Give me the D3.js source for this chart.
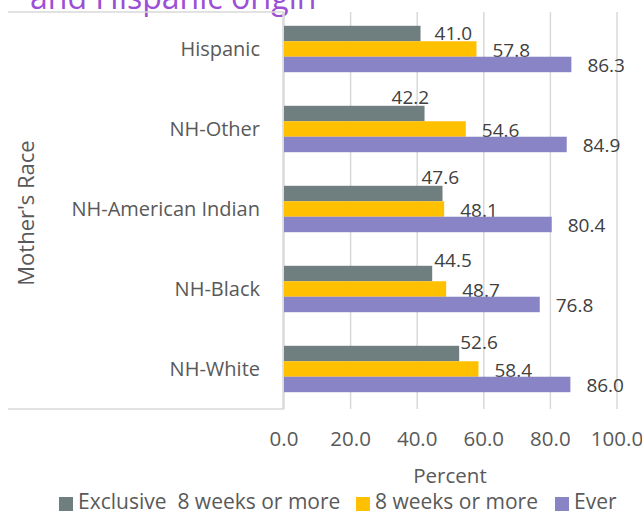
<!DOCTYPE html>
<html>
<head>
<meta charset="utf-8">
<script src="https://cdn.jsdelivr.net/npm/d3@7"></script>
<style>
  body { margin: 0; background: #fff; }
  svg { display: block; font-family: "Open Sans", sans-serif; }
</style>
</head>
<body>
<div id="chart"></div>
<script>
// data, top to bottom as in the picture
const races = ["Hispanic", "NH-Other", "NH-American Indian", "NH-Black", "NH-White"];
const exclusive8wk = [41.0, 42.2, 47.6, 44.5, 52.6];
const weeks8 = [57.8, 54.6, 48.1, 48.7, 58.4];
const ever = [86.3, 84.9, 80.4, 76.8, 86.0];
const seriesNames = ["Exclusive  8 weeks or more", "8 weeks or more", "Ever"];
const xTicks = [0, 20, 40, 60, 80, 100];

const colors = ["#6f7f7f", "#ffc000", "#8884c6"];
const textColor = "#595959";

// excel moved the gray labels around to dodge each other, nudges in px
const grayNudge = [[-2, -1], [-49, -17], [-37, -17], [-14, -14], [-15, -12]];

const width = 642;
const height = 511;

const svg = d3.select("#chart").append("svg")
  .attr("width", width)
  .attr("height", height);

const x = d3.scaleLinear().domain([0, 100]).range([284, 617]);
const y = d3.scaleBand().domain(races).range([9, 409])
  .paddingInner(0.42).paddingOuter(0.21);
const sub = d3.scaleBand().domain(seriesNames).range([0, y.bandwidth()]);

// title, mostly cut off at the top
svg.append("text")
  .attr("x", 30).attr("y", 9)
  .attr("fill", "#9b4fd6")
  .attr("font-size", 32)
  .text("and Hispanic origin");

// left frame lines
svg.append("line").attr("x1", 8).attr("x2", 284).attr("y1", 12).attr("y2", 12)
  .attr("stroke", "#d9d9d9").attr("stroke-width", 1.5);
svg.append("line").attr("x1", 8).attr("x2", 284).attr("y1", 409).attr("y2", 409)
  .attr("stroke", "#d9d9d9").attr("stroke-width", 1.5);

// gridlines
svg.append("g").selectAll("line")
  .data(xTicks)
  .join("line")
  .attr("x1", d => x(d)).attr("x2", d => x(d))
  .attr("y1", 12).attr("y2", 409)
  .attr("stroke", "#d9d9d9").attr("stroke-width", 1.5);

// tick labels
svg.append("g").selectAll("text")
  .data(xTicks)
  .join("text")
  .attr("x", d => x(d)).attr("y", 446)
  .attr("text-anchor", "middle")
  .attr("font-size", 20.5)
  .attr("fill", textColor)
  .text(d => d3.format(".1f")(d));

const allSeries = [exclusive8wk, weeks8, ever];

allSeries.forEach((values, s) => {
  const g = svg.append("g");
  g.selectAll("rect")
    .data(values)
    .join("rect")
    .attr("x", x(0))
    .attr("y", (d, i) => y(races[i]) + sub(seriesNames[s]))
    .attr("width", d => x(d) - x(0))
    .attr("height", sub.bandwidth())
    .attr("fill", colors[s]);

  g.selectAll("text")
    .data(values)
    .join("text")
    .attr("x", (d, i) => x(d) + 16 + (s === 0 ? grayNudge[i][0] : 0))
    .attr("y", (d, i) => y(races[i]) + sub(seriesNames[s]) + sub.bandwidth() + (s === 0 ? grayNudge[i][1] : 0))
    .attr("font-size", 19)
    .attr("fill", "#404040")
    .text(d => d3.format(".1f")(d));
});

// category axis line
svg.append("line").attr("x1", 283).attr("x2", 283).attr("y1", 12).attr("y2", 409)
  .attr("stroke", "#d9d9d9").attr("stroke-width", 1.5);

// category labels
svg.append("g").selectAll("text")
  .data(races)
  .join("text")
  .attr("x", 260)
  .attr("y", d => y(d) + y.bandwidth() / 2 + 7)
  .attr("text-anchor", "end")
  .attr("font-size", 20)
  .attr("fill", textColor)
  .text(d => d);

// axis titles
svg.append("text")
  .attr("transform", "translate(34,213) rotate(-90)")
  .attr("text-anchor", "middle")
  .attr("font-size", 22)
  .attr("fill", textColor)
  .text("Mother's Race");

svg.append("text")
  .attr("x", 450).attr("y", 483)
  .attr("text-anchor", "middle")
  .attr("font-size", 20.5)
  .attr("fill", textColor)
  .text("Percent");

// legend
const legendX = [59, 356, 555];
const legend = svg.append("g").selectAll("g")
  .data(seriesNames)
  .join("g")
  .attr("transform", (d, i) => `translate(${legendX[i]},497)`);
legend.append("rect")
  .attr("width", 14).attr("height", 14)
  .attr("fill", (d, i) => colors[i]);
legend.append("text")
  .attr("x", 19).attr("y", 12)
  .attr("font-size", 21)
  .attr("fill", textColor)
  .attr("xml:space", "preserve")
  .style("white-space", "pre")
  .text(d => d);
</script>
</body>
</html>
